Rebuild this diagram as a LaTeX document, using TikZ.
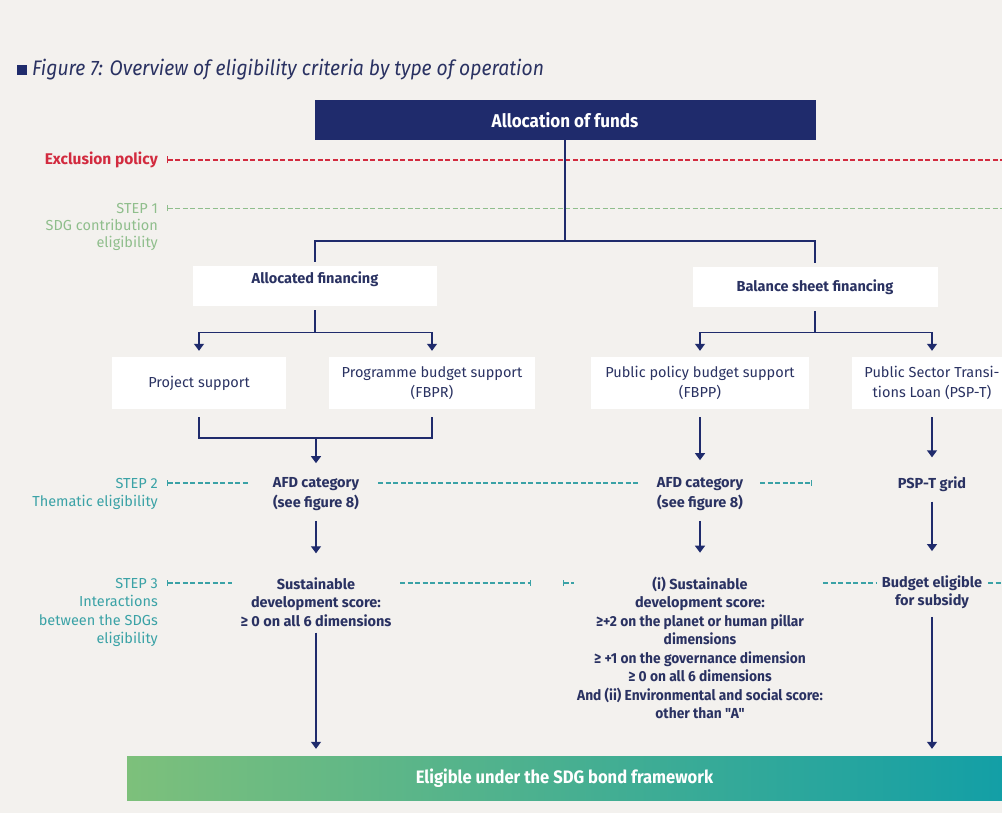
\documentclass[tikz,border=0pt]{standalone}
\usepackage{fontspec}
\setmainfont{Fira Sans}
\newfontfamily\condfont{Fira Sans}[FakeStretch=0.92]
\newfontfamily\narrowfont{Fira Sans}[FakeStretch=0.95]
\usetikzlibrary{arrows.meta,calc}

\definecolor{paper}{HTML}{F3F1EE}
\definecolor{navy}{HTML}{1F2B6C}
\definecolor{ink}{HTML}{2A3262}
\definecolor{exred}{HTML}{D22B3F}
\definecolor{sgreen}{HTML}{8FBE8C}
\definecolor{steal}{HTML}{3AA2A6}
\definecolor{gleft}{HTML}{7DC07B}
\definecolor{gright}{HTML}{139FA6}

\newcommand\bodysize{\fontsize{14.5}{20}\selectfont}
\newcommand\boldsize{\fontsize{14.5}{18.5}\selectfont\bfseries}
\newcommand\stepsize{\fontsize{14.5}{18.5}\selectfont}

\begin{document}
\begin{tikzpicture}[x=1pt,y=-1pt,
    every node/.style={inner sep=0pt, text=ink},
    wbox/.style={fill=white, font=\bodysize, align=center},
    txt/.style={font=\boldsize, align=center},
    link/.style={draw=navy, line width=1.4pt},
    arr/.style={link, -{Triangle[width=10pt,length=7pt]}},
    steplbl/.style={anchor=north east, align=right, font=\stepsize},
    guide/.style={line width=1.2pt, dash pattern=on 5pt off 2.5pt}]

    % canvas
    \useasboundingbox (0,0) rectangle (1002,813);
    \fill[paper] (0,0) rectangle (1002,813);
    \clip (0,0) rectangle (1002,813);

    % title
    \node[fill=navy, minimum size=10pt] (bullet) at (22,70) {};
    \node[anchor=west, font=\condfont\itshape\fontsize{21}{24}\selectfont] (title) at (32,70)
        {Figure 7: Overview of eligibility criteria by type of operation};

    % boxes
    \node[fill=navy, minimum width=501pt, minimum height=40pt, text=white,
        font=\condfont\bfseries\fontsize{18.5}{20}\selectfont] (funds) at (565,120) {Allocation of funds};
    \node[wbox, minimum width=244pt, minimum height=40pt] (allocfin) at (315,286) {};
    \node[txt] (allocfintxt) at (315,279) {Allocated financing};
    \node[wbox, minimum width=245pt, minimum height=40pt, font=\boldsize] (balfin) at (815,287) {Balance sheet financing};
    \node[wbox, minimum width=174pt, minimum height=52pt] (projsup) at (199,383) {Project support};
    \node[wbox, minimum width=206pt, minimum height=52pt] (fbpr) at (432,383) {Programme budget support\\(FBPR)};
    \node[wbox, minimum width=218pt, minimum height=52pt] (fbpp) at (700,383) {Public policy budget support\\(FBPP)};
    \node[wbox, minimum width=160pt, minimum height=52pt] (pspt) at (932,383) {Public Sector Transi-\\tions Loan (PSP-T)};

    % criteria
    \node[txt, font=\fontsize{14.5}{20}\selectfont\bfseries] (afd1) at (316,494) {AFD category\\(see figure 8)};
    \node[txt, font=\fontsize{14.5}{20}\selectfont\bfseries] (afd2) at (700,494) {AFD category\\(see figure 8)};
    \node[txt] (pspgrid) at (932,484) {PSP-T grid};
    \node[txt] (sds1) at (316,602) {Sustainable\\development score:\\≥ 0 on all 6 dimensions};
    \node[txt] (sds2) at (700,648) {(i) Sustainable\\development score:\\\narrowfont ≥+2 on the planet or human pillar\\\narrowfont dimensions\\\narrowfont ≥ +1 on the governance dimension\\\narrowfont ≥ 0 on all 6 dimensions\\\narrowfont And (ii) Environmental and social score:\\\narrowfont other than "A"};
    \node[txt] (budget) at (932,592) {Budget eligible\\for subsidy};
    \node[left color=gleft, right color=gright, minimum width=875pt, minimum height=44pt, text=white,
        font=\condfont\bfseries\fontsize{18}{20}\selectfont] (bond) at (564.5,778) {Eligible under the SDG bond framework};

    % steps
    \node[anchor=east, text=exred, font=\fontsize{15.5}{17}\selectfont\bfseries] (excl) at (158,160) {Exclusion policy};
    \node[steplbl, text=sgreen, font=\fontsize{14.5}{17}\selectfont] (step1) at (158,203) {STEP 1\\SDG contribution\\eligibility};
    \node[steplbl, text=steal] (step2) at (158,478) {STEP 2\\Thematic eligibility};
    \node[steplbl, text=steal] (step3) at (158,578) {STEP 3\\Interactions\\between the SDGs\\eligibility};

    \coordinate (exclend) at (1002,160);
    \coordinate (step1end) at (1002,208);
    \draw[exred, guide, line width=1.3pt, {Bar[width=7pt]}-] ($(excl.east)+(9,0)$) -- (exclend);
    \draw[sgreen, guide, line width=0.9pt, {Bar[width=6pt]}-] ($(step1.north east)+(9,5)$) -- (step1end);

    \coordinate (s2a) at (250,483);
    \coordinate (s2b) at (378,483);
    \coordinate (s2c) at (640,483);
    \coordinate (s2d) at (760,483);
    \coordinate (s2e) at (812,483);
    \draw[steal, guide, {Bar[width=6pt]}-] ($(step2.north east)+(9,5)$) -- (s2a);
    \draw[steal, guide] (s2b) -- (s2c);
    \draw[steal, guide, -{Bar[width=6pt]}] (s2d) -- (s2e);

    \coordinate (s3a) at (232,583);
    \coordinate (s3b) at (400,583);
    \coordinate (s3c) at (531,583);
    \coordinate (s3d) at (563,583);
    \coordinate (s3e) at (574,583);
    \coordinate (s3f) at (823,583);
    \coordinate (s3g) at (876,583);
    \coordinate (s3h) at (988,583);
    \coordinate (s3i) at (1002,583);
    \draw[steal, guide, {Bar[width=6pt]}-] ($(step3.north east)+(9,5)$) -- (s3a);
    \draw[steal, guide, -{Bar[width=6pt]}] (s3b) -- (s3c);
    \draw[steal, guide, {Bar[width=6pt]}-] (s3d) -- (s3e);
    \draw[steal, guide] (s3f) -- (s3g);
    \draw[steal, guide] (s3h) -- (s3i);

    % connectors
    \coordinate (fork) at (565,241);
    \draw[link] (funds.south) -- (fork);
    \draw[link] ($(allocfin.north)+(0,-4)$) |- (fork) -| ($(balfin.north)+(0,-4)$);

    \draw[link] ($(allocfin.south)+(0,4)$) -- ++(0,22) coordinate (split1);
    \draw[arr] (split1) -| ($(projsup.north)+(0,-6)$);
    \draw[arr] (split1) -| ($(fbpr.north)+(0,-6)$);
    \draw[link] ($(balfin.south)+(0,4)$) -- ++(0,21) coordinate (split2);
    \draw[arr] (split2) -| ($(fbpp.north)+(0,-6)$);
    \draw[arr] (split2) -| ($(pspt.north)+(0,-6)$);

    \coordinate (join1) at (316,438);
    \draw[link] ($(projsup.south)+(0,8)$) |- (join1) -| ($(fbpr.south)+(0,8)$);
    \draw[arr] (join1) -- ($(afd1.north)+(0,-14)$);
    \draw[arr] ($(fbpp.south)+(0,8)$) -- ($(afd2.north)+(0,-17)$);
    \draw[arr] ($(pspt.south)+(0,8)$) -- ($(pspgrid.north)+(0,-19)$);

    \draw[arr] ($(afd1.south)+(0,10)$) -- ($(sds1.north)+(0,-24)$);
    \draw[arr] ($(afd2.south)+(0,10)$) -- ($(sds2.north)+(0,-24)$);
    \draw[arr] ($(pspgrid.south)+(0,10)$) -- ($(budget.north)+(0,-24)$);

    \draw[arr] ($(sds1.south)+(0,6)$) -- ($(bond.north -| sds1)+(0,-7)$);
    \draw[arr] ($(budget.south)+(0,8)$) -- ($(bond.north -| budget)+(0,-7)$);
\end{tikzpicture}
\end{document}
